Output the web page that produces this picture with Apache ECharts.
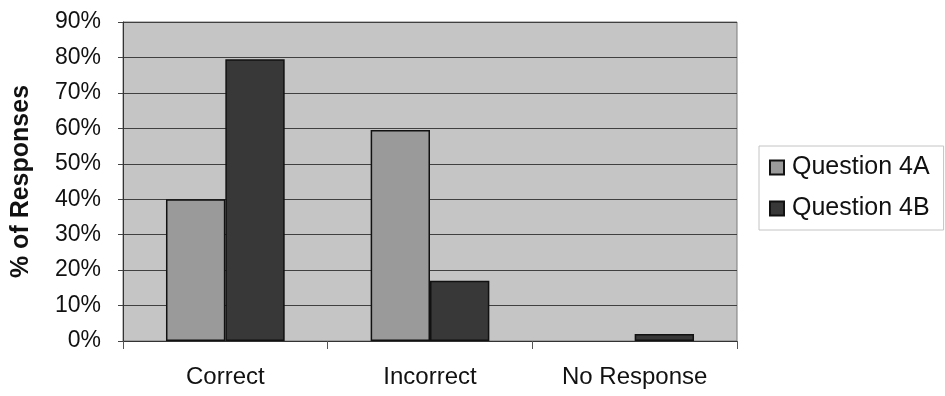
<!DOCTYPE html>
<html>
<head>
<meta charset="utf-8">
<script src="https://cdn.jsdelivr.net/npm/echarts@6/dist/echarts.min.js"></script>
<style>
  html, body { margin: 0; padding: 0; background: #fff; }
  #chart { width: 945px; height: 396px; }
</style>
</head>
<body>
<div id="chart"></div>
<script>
// Response categories and the share of answers for each question (percent)
var categories = ['Correct', 'Incorrect', 'No Response'];
var question4A = [40, 59.5, 0];
var question4B = [79.5, 17, 2];
var seriesNames = ['Question 4A', 'Question 4B'];
var yTicks = { min: 0, max: 90, step: 10 };
var yTitle = '% of Responses';

var font = '"Liberation Sans", Arial, sans-serif';

// zero-height bars get no outline, so an empty category stays empty
function barData(values) {
  return values.map(function (v) {
    return v === 0 ? { value: v, itemStyle: { borderWidth: 0 } } : v;
  });
}

var chart = echarts.init(document.getElementById('chart'), null, { renderer: 'canvas' });

chart.setOption({
  animation: false,
  backgroundColor: '#ffffff',
  grid: {
    left: 123, right: 208, top: 22, bottom: 55,
    show: true,
    backgroundColor: '#c5c5c5',
    borderColor: '#7a7a7a',
    borderWidth: 1
  },
  legend: {
    orient: 'vertical',
    left: 759, top: 146,
    padding: [9, 14, 9, 10],
    itemWidth: 14, itemHeight: 14,
    itemGap: 16,
    borderColor: '#c4c4c4',
    borderWidth: 1,
    icon: 'rect',
    textStyle: { fontFamily: font, fontSize: 25, color: '#111', lineHeight: 24, padding: [0, 0, 0, 3] },
    data: seriesNames
  },
  xAxis: {
    type: 'category',
    data: categories,
    axisLine: { lineStyle: { color: '#333', width: 1 } },
    axisTick: { show: true, length: 8, lineStyle: { color: '#555' } },
    axisLabel: { fontFamily: font, fontSize: 24, color: '#111', margin: 24 },
    splitLine: { show: false }
  },
  yAxis: {
    type: 'value',
    min: yTicks.min, max: yTicks.max, interval: yTicks.step,
    name: yTitle,
    nameLocation: 'middle',
    nameGap: 89,
    nameRotate: 90,
    nameTextStyle: { fontFamily: font, fontSize: 25, fontWeight: 'bold', color: '#111' },
    axisLine: { show: true, lineStyle: { color: '#333', width: 1 } },
    axisTick: { show: true, length: 5, lineStyle: { color: '#444' } },
    axisLabel: { fontFamily: font, fontSize: 23, color: '#111', margin: 22, formatter: '{value}%' },
    splitLine: { show: true, lineStyle: { color: '#404040', width: 1 } }
  },
  series: [
    {
      name: seriesNames[0],
      type: 'bar',
      data: barData(question4A),
      barGap: '0%',
      barCategoryGap: '42%',
      itemStyle: { color: '#9a9a9a', borderColor: '#111', borderWidth: 1.5 }
    },
    {
      name: seriesNames[1],
      type: 'bar',
      data: barData(question4B),
      barGap: '0%',
      barCategoryGap: '42%',
      itemStyle: { color: '#383838', borderColor: '#111', borderWidth: 1.5 }
    }
  ]
});
</script>
</body>
</html>
